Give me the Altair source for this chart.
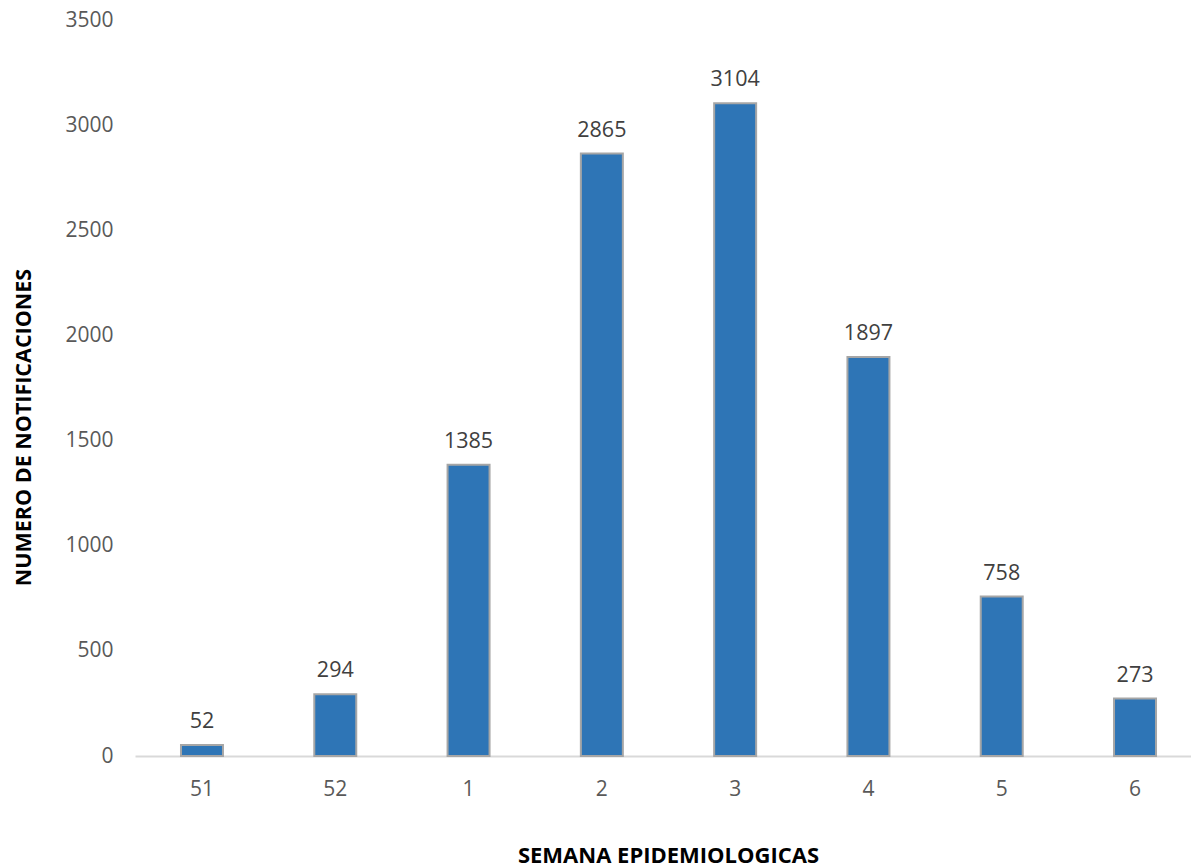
import altair as alt
import pandas as pd

semanas = ["51", "52", "1", "2", "3", "4", "5", "6"]
notificaciones = [52, 294, 1385, 2865, 3104, 1897, 758, 273]
y_ticks = [0, 500, 1000, 1500, 2000, 2500, 3000, 3500]
titulo = "EPIDEMIOLOGICA"

df = pd.DataFrame({"semana": semanas, "n": notificaciones})

FONT = "Open Sans"

x_scale = alt.Scale(range=[0, 1067], paddingInner=0.685, paddingOuter=0.345)
y_scale = alt.Scale(domain=[0, 3500], nice=False)

x = alt.X(
    "semana:N",
    sort=semanas,
    scale=x_scale,
    axis=alt.Axis(
        title="SEMANA EPIDEMIOLOGICAS",
        titleFont=FONT,
        titleFontSize=22,
        titleFontWeight="bold",
        titleColor="#000000",
        titleX=533,
        titleY=99,
        titleBaseline="middle",
        labelAngle=0,
        labelFont=FONT,
        labelFontSize=21,
        labelColor="#595959",
        labelPadding=22,
        ticks=False,
        domainColor="#D9D9D9",
        domainWidth=2,
        grid=False,
    ),
)
y = alt.Y(
    "n:Q",
    scale=y_scale,
    axis=alt.Axis(
        title="NUMERO DE NOTIFICACIONES",
        titleFont=FONT,
        titleFontSize=21.5,
        titleFontWeight="bold",
        titleColor="#000000",
        titleX=-111,
        titleY=407,
        titleBaseline="middle",
        titleAngle=-90,
        values=y_ticks,
        format="d",
        labelFont=FONT,
        labelFontSize=21,
        labelColor="#595959",
        labelPadding=22,
        ticks=False,
        domain=False,
        grid=False,
    ),
)

bars = alt.Chart(df).mark_bar(
    color="#2E75B6", stroke="#A6A6A6", strokeWidth=2
).encode(x=x, y=y)

labels = alt.Chart(df).mark_text(
    font=FONT, fontSize=21.5, color="#404040", baseline="alphabetic", dy=-17
).encode(
    x=alt.X("semana:N", sort=semanas, scale=x_scale),
    y=alt.Y("n:Q", scale=y_scale),
    text="n:Q",
)

title_text = alt.Chart(pd.DataFrame({"t": [titulo]})).mark_text(
    font=FONT, fontSize=24, fontWeight="bold", color="#262626", baseline="alphabetic"
).encode(x=alt.value(450), y=alt.value(-12), text="t:N")

chart = (
    alt.layer(bars, labels, title_text)
    .properties(
        width=1056,
        height=736,
        background="white",
        autosize=alt.AutoSizeParams(type="none"),
        padding={"left": 127, "top": 12, "right": 0, "bottom": 111},
    )
    .configure_view(stroke="transparent", strokeWidth=0)
    .configure_axis(grid=False)
)

chart.save("out.html", embed_options={"renderer": "svg", "actions": False})
